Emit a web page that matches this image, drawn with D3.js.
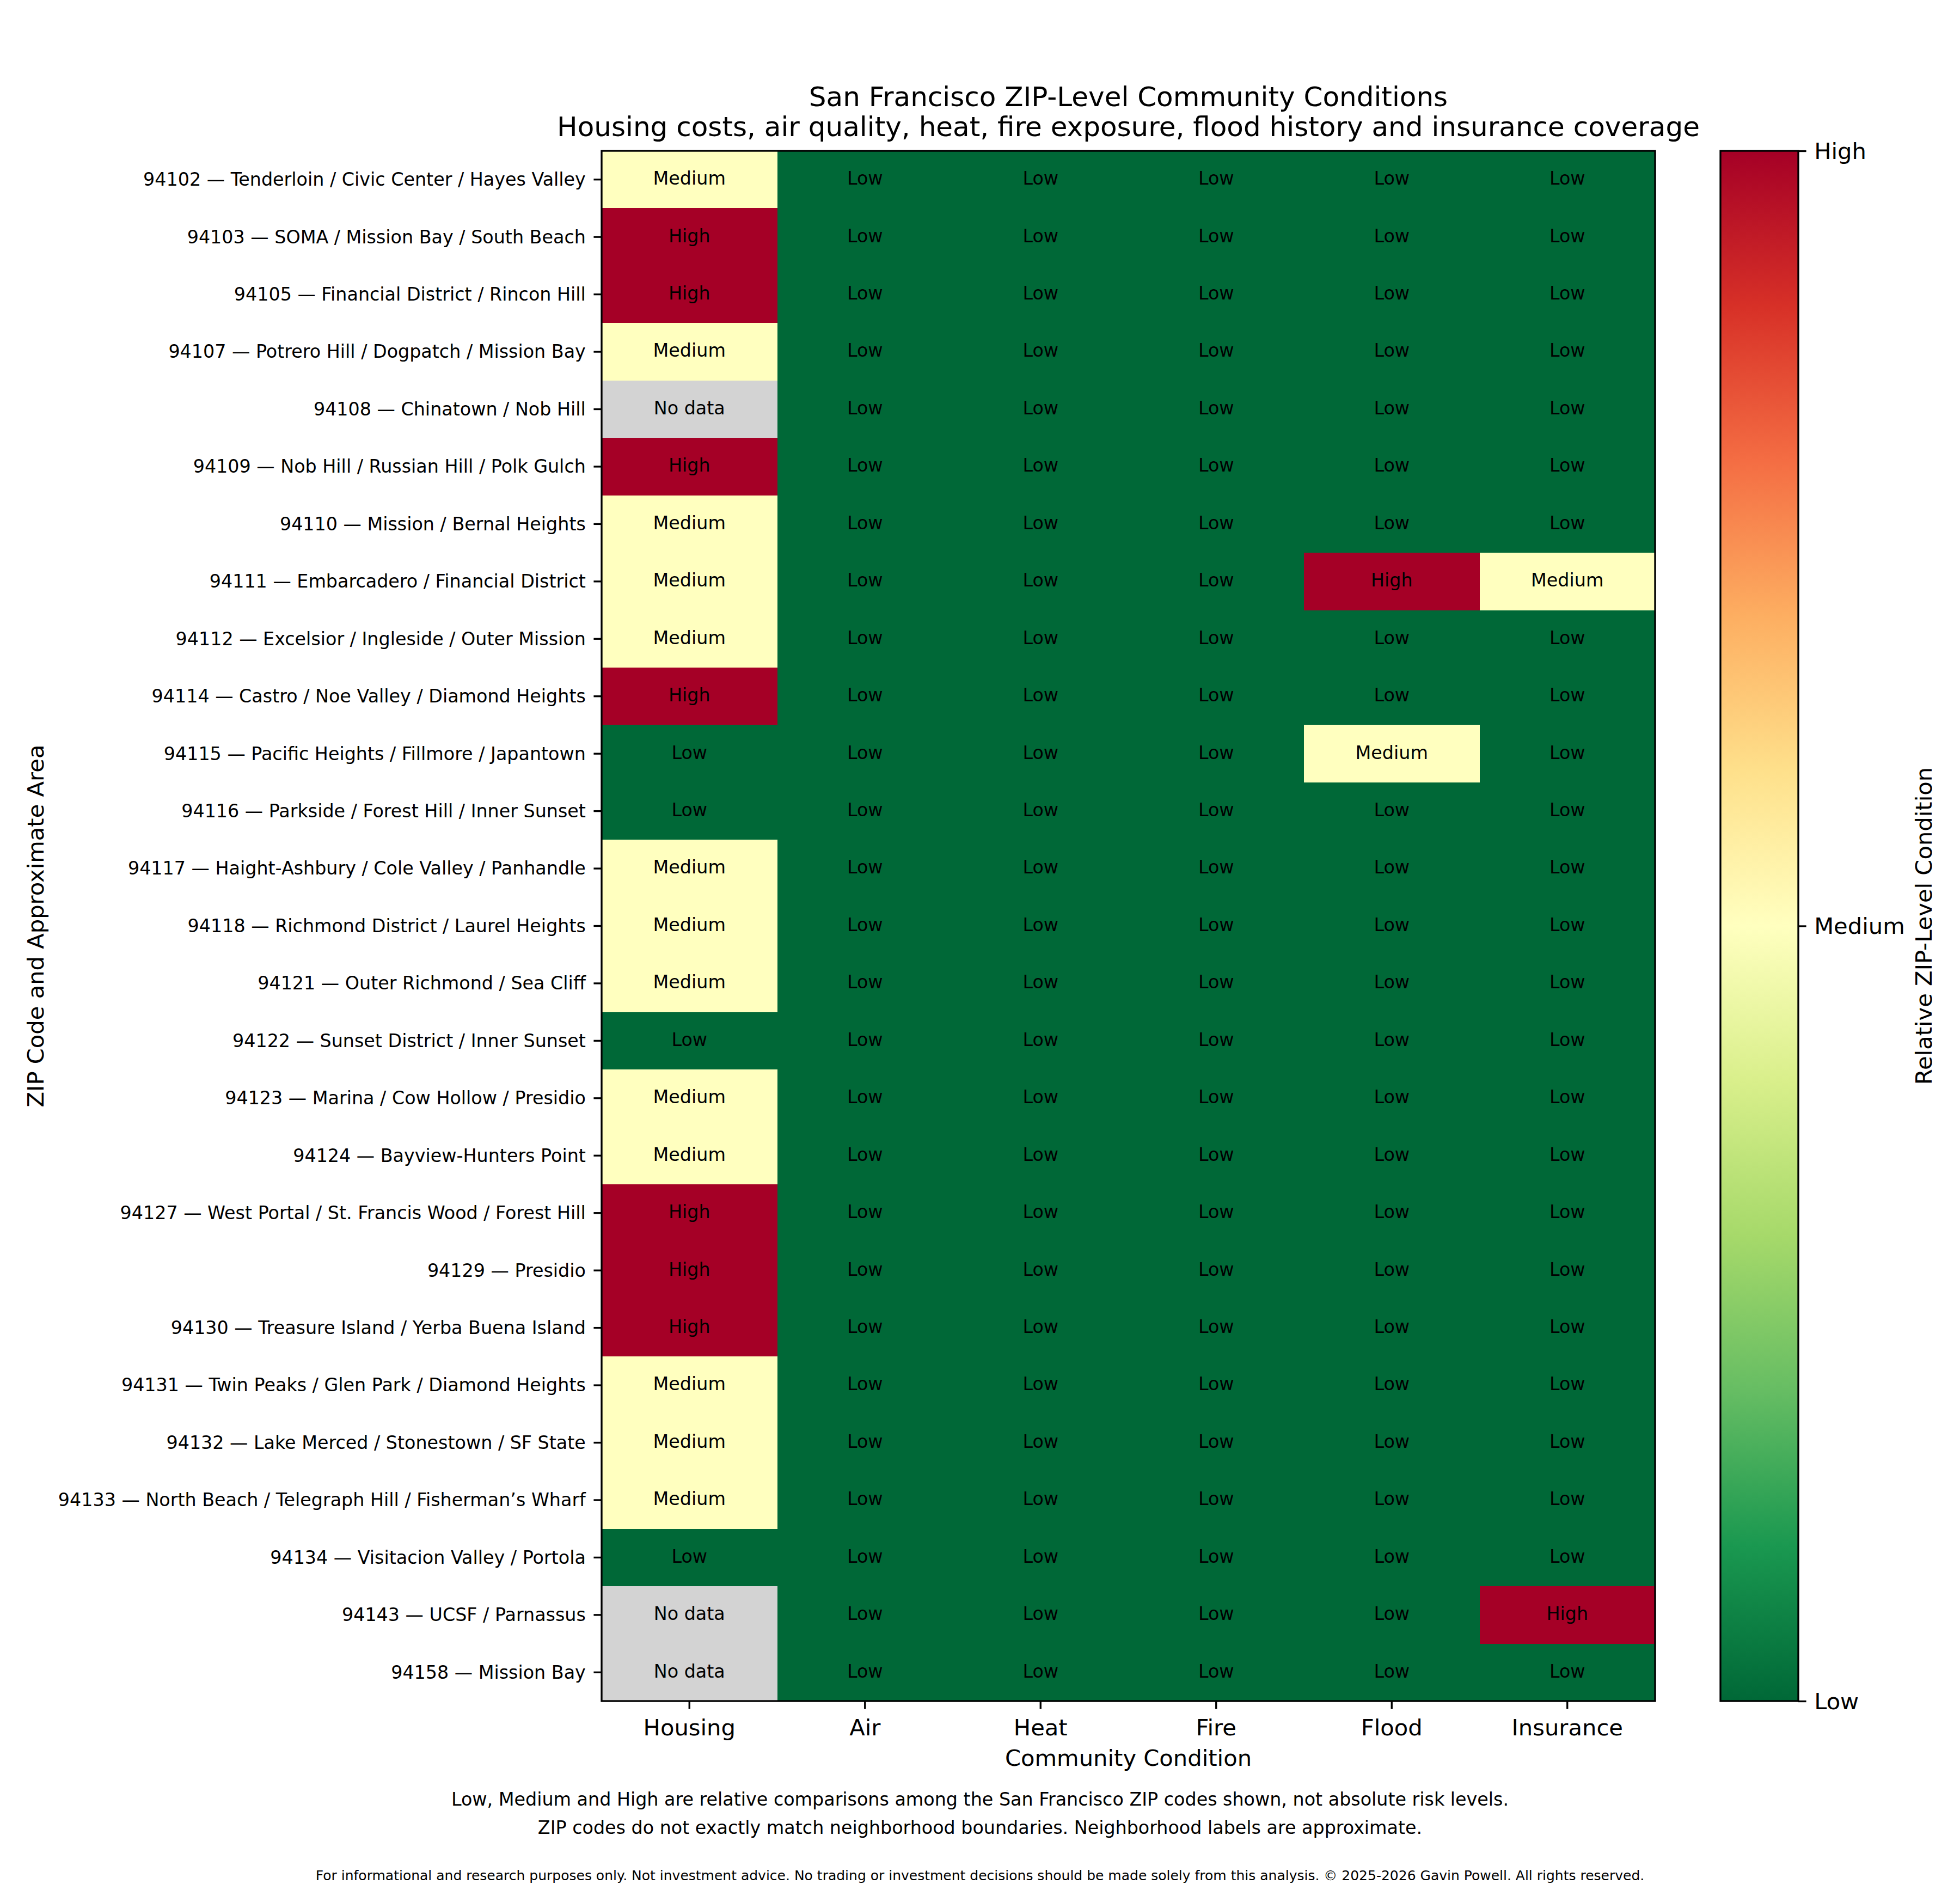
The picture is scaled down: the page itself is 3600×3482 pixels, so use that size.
<!DOCTYPE html>
<html>
<head>
<meta charset="utf-8">
<script src="https://cdn.jsdelivr.net/npm/d3@7"></script>
<style>
  body { margin: 0; background: #fff; }
  text { font-family: "DejaVu Sans", sans-serif; fill: #000; }
</style>
</head>
<body>
<div id="chart"></div>
<script>
// ZIP-level heatmap, matplotlib look (RdYlGn_r, lightgray for missing)
const zipLabels = [
  "94102 — Tenderloin / Civic Center / Hayes Valley",
  "94103 — SOMA / Mission Bay / South Beach",
  "94105 — Financial District / Rincon Hill",
  "94107 — Potrero Hill / Dogpatch / Mission Bay",
  "94108 — Chinatown / Nob Hill",
  "94109 — Nob Hill / Russian Hill / Polk Gulch",
  "94110 — Mission / Bernal Heights",
  "94111 — Embarcadero / Financial District",
  "94112 — Excelsior / Ingleside / Outer Mission",
  "94114 — Castro / Noe Valley / Diamond Heights",
  "94115 — Pacific Heights / Fillmore / Japantown",
  "94116 — Parkside / Forest Hill / Inner Sunset",
  "94117 — Haight-Ashbury / Cole Valley / Panhandle",
  "94118 — Richmond District / Laurel Heights",
  "94121 — Outer Richmond / Sea Cliff",
  "94122 — Sunset District / Inner Sunset",
  "94123 — Marina / Cow Hollow / Presidio",
  "94124 — Bayview-Hunters Point",
  "94127 — West Portal / St. Francis Wood / Forest Hill",
  "94129 — Presidio",
  "94130 — Treasure Island / Yerba Buena Island",
  "94131 — Twin Peaks / Glen Park / Diamond Heights",
  "94132 — Lake Merced / Stonestown / SF State",
  "94133 — North Beach / Telegraph Hill / Fisherman’s Wharf",
  "94134 — Visitacion Valley / Portola",
  "94143 — UCSF / Parnassus",
  "94158 — Mission Bay"
];

const conditions = ["Housing", "Air", "Heat", "Fire", "Flood", "Insurance"];
const levelNames = ["Low", "Medium", "High"];

const housing = ["Medium", "High", "High", "Medium", "No data", "High", "Medium", "Medium", "Medium",
  "High", "Low", "Low", "Medium", "Medium", "Medium", "Low", "Medium", "Medium", "High", "High",
  "High", "Medium", "Medium", "Medium", "Low", "No data", "No data"];
const air = ["Low", "Low", "Low", "Low", "Low", "Low", "Low", "Low", "Low", "Low", "Low", "Low",
  "Low", "Low", "Low", "Low", "Low", "Low", "Low", "Low", "Low", "Low", "Low", "Low", "Low", "Low", "Low"];
const heat = ["Low", "Low", "Low", "Low", "Low", "Low", "Low", "Low", "Low", "Low", "Low", "Low",
  "Low", "Low", "Low", "Low", "Low", "Low", "Low", "Low", "Low", "Low", "Low", "Low", "Low", "Low", "Low"];
const fire = ["Low", "Low", "Low", "Low", "Low", "Low", "Low", "Low", "Low", "Low", "Low", "Low",
  "Low", "Low", "Low", "Low", "Low", "Low", "Low", "Low", "Low", "Low", "Low", "Low", "Low", "Low", "Low"];
const flood = ["Low", "Low", "Low", "Low", "Low", "Low", "Low", "High", "Low", "Low", "Medium", "Low",
  "Low", "Low", "Low", "Low", "Low", "Low", "Low", "Low", "Low", "Low", "Low", "Low", "Low", "Low", "Low"];
const insurance = ["Low", "Low", "Low", "Low", "Low", "Low", "Low", "Medium", "Low", "Low", "Low", "Low",
  "Low", "Low", "Low", "Low", "Low", "Low", "Low", "Low", "Low", "Low", "Low", "Low", "Low", "High", "Low"];

const columns = [housing, air, heat, fire, flood, insurance];

const titleLines = [
  "San Francisco ZIP-Level Community Conditions",
  "Housing costs, air quality, heat, fire exposure, flood history and insurance coverage"
];
const footnotes = [
  "Low, Medium and High are relative comparisons among the San Francisco ZIP codes shown, not absolute risk levels.",
  "ZIP codes do not exactly match neighborhood boundaries. Neighborhood labels are approximate."
];
const disclaimer = "For informational and research purposes only. Not investment advice. No trading or investment decisions should be made solely from this analysis. © 2025-2026 Gavin Powell. All rights reserved.";

// RdYlGn reversed (ColorBrewer stops, linear like matplotlib)
const rdylgnR = ["#006837", "#1a9850", "#66bd63", "#a6d96a", "#d9ef8b", "#ffffbf",
  "#fee08b", "#fdae61", "#f46d43", "#d73027", "#a50026"];

(function () {
  const width = 3600;
  const height = 3482;
  const pt = 300 / 72;

  const plot = { left: 1105, right: 3040, top: 277, bottom: 3124 };
  const cbar = { left: 3160, right: 3303 };

  const svg = d3.select("#chart")
    .append("svg")
    .attr("width", width)
    .attr("height", height)
    .attr("viewBox", `0 0 ${width} ${height}`);

  const x = d3.scaleBand().domain(conditions).range([plot.left, plot.right]);
  const y = d3.scaleBand().domain(zipLabels).range([plot.top, plot.bottom]);

  const cmap = d3.scaleLinear()
    .domain(d3.range(rdylgnR.length).map((i) => i / (rdylgnR.length - 1)))
    .range(rdylgnR)
    .interpolate(d3.interpolateRgb);

  const level = d3.scaleOrdinal().domain(levelNames).range([0, 0.5, 1]);
  const fillFor = (v) => (v === "No data" ? "#d3d3d3" : cmap(level(v)));

  const cells = [];
  conditions.forEach((c, j) => {
    zipLabels.forEach((z, i) => {
      cells.push({ zip: z, cond: c, value: columns[j][i] });
    });
  });

  const cellG = svg.append("g");
  cellG.selectAll("rect")
    .data(cells)
    .join("rect")
    .attr("x", (d) => x(d.cond))
    .attr("y", (d) => y(d.zip))
    .attr("width", x.bandwidth() + 0.5)
    .attr("height", y.bandwidth() + 0.5)
    .attr("fill", (d) => fillFor(d.value))
    .attr("shape-rendering", "crispEdges");

  cellG.selectAll("text")
    .data(cells)
    .join("text")
    .attr("x", (d) => x(d.cond) + x.bandwidth() / 2)
    .attr("y", (d) => y(d.zip) + y.bandwidth() / 2)
    .attr("dy", "0.28em")
    .attr("text-anchor", "middle")
    .attr("font-size", 8 * pt)
    .text((d) => d.value);

  // frame
  svg.append("rect")
    .attr("x", plot.left)
    .attr("y", plot.top)
    .attr("width", plot.right - plot.left)
    .attr("height", plot.bottom - plot.top)
    .attr("fill", "none")
    .attr("stroke", "#000")
    .attr("stroke-width", 0.8 * pt);

  const tickLen = 3.5 * pt;

  const yAxis = svg.append("g")
    .attr("transform", `translate(${plot.left},0)`)
    .call(d3.axisLeft(y).tickSize(tickLen).tickPadding(tickLen));
  yAxis.select(".domain").remove();
  yAxis.selectAll("line").attr("stroke-width", 0.8 * pt);
  yAxis.selectAll("text")
    .attr("font-size", 8 * pt)
    .attr("font-family", "DejaVu Sans")
    .attr("dy", "0.34em");

  const xAxis = svg.append("g")
    .attr("transform", `translate(0,${plot.bottom})`)
    .call(d3.axisBottom(x).tickSize(tickLen).tickPadding(tickLen));
  xAxis.select(".domain").remove();
  xAxis.selectAll("line").attr("stroke-width", 0.8 * pt);
  xAxis.selectAll("text")
    .attr("font-size", 10 * pt)
    .attr("font-family", "DejaVu Sans")
    .attr("dy", "0.8em");

  // colorbar
  const defs = svg.append("defs");
  const grad = defs.append("linearGradient")
    .attr("id", "cbar-grad")
    .attr("x1", 0).attr("y1", 1)
    .attr("x2", 0).attr("y2", 0);
  grad.selectAll("stop")
    .data(rdylgnR)
    .join("stop")
    .attr("offset", (d, i) => i / (rdylgnR.length - 1))
    .attr("stop-color", (d) => d);

  svg.append("rect")
    .attr("x", cbar.left)
    .attr("y", plot.top)
    .attr("width", cbar.right - cbar.left)
    .attr("height", plot.bottom - plot.top)
    .attr("fill", "url(#cbar-grad)")
    .attr("stroke", "#000")
    .attr("stroke-width", 0.8 * pt);

  const cy = d3.scaleLinear().domain([0, levelNames.length - 1]).range([plot.bottom, plot.top]);
  const cAxis = svg.append("g")
    .attr("transform", `translate(${cbar.right},0)`)
    .call(d3.axisRight(cy)
      .tickValues(d3.range(levelNames.length))
      .tickFormat((d) => levelNames[d])
      .tickSize(tickLen)
      .tickPadding(tickLen));
  cAxis.select(".domain").remove();
  cAxis.selectAll("line").attr("stroke-width", 0.8 * pt);
  cAxis.selectAll("text")
    .attr("font-size", 10 * pt)
    .attr("font-family", "DejaVu Sans")
    .attr("dy", "0.34em");

  svg.append("text")
    .attr("transform", `translate(3548,${(plot.top + plot.bottom) / 2}) rotate(-90)`)
    .attr("text-anchor", "middle")
    .attr("font-size", 10 * pt)
    .text("Relative ZIP-Level Condition");

  // axis labels
  svg.append("text")
    .attr("x", (plot.left + plot.right) / 2)
    .attr("y", 3243)
    .attr("text-anchor", "middle")
    .attr("font-size", 10 * pt)
    .text("Community Condition");

  svg.append("text")
    .attr("transform", `translate(80,${(plot.top + plot.bottom) / 2}) rotate(-90)`)
    .attr("text-anchor", "middle")
    .attr("font-size", 10 * pt)
    .text("ZIP Code and Approximate Area");

  // title
  svg.append("g")
    .selectAll("text")
    .data(titleLines)
    .join("text")
    .attr("x", (plot.left + plot.right) / 2)
    .attr("y", (d, i) => 195 + i * 55)
    .attr("text-anchor", "middle")
    .attr("font-size", 12 * pt)
    .text((d) => d);

  // notes
  svg.append("g")
    .selectAll("text")
    .data(footnotes)
    .join("text")
    .attr("x", width / 2)
    .attr("y", (d, i) => 3316 + i * 52)
    .attr("text-anchor", "middle")
    .attr("font-size", 8 * pt)
    .text((d) => d);

  svg.append("text")
    .attr("x", width / 2)
    .attr("y", 3453)
    .attr("text-anchor", "middle")
    .attr("font-size", 6 * pt)
    .text(disclaimer);
})();
</script>
</body>
</html>
